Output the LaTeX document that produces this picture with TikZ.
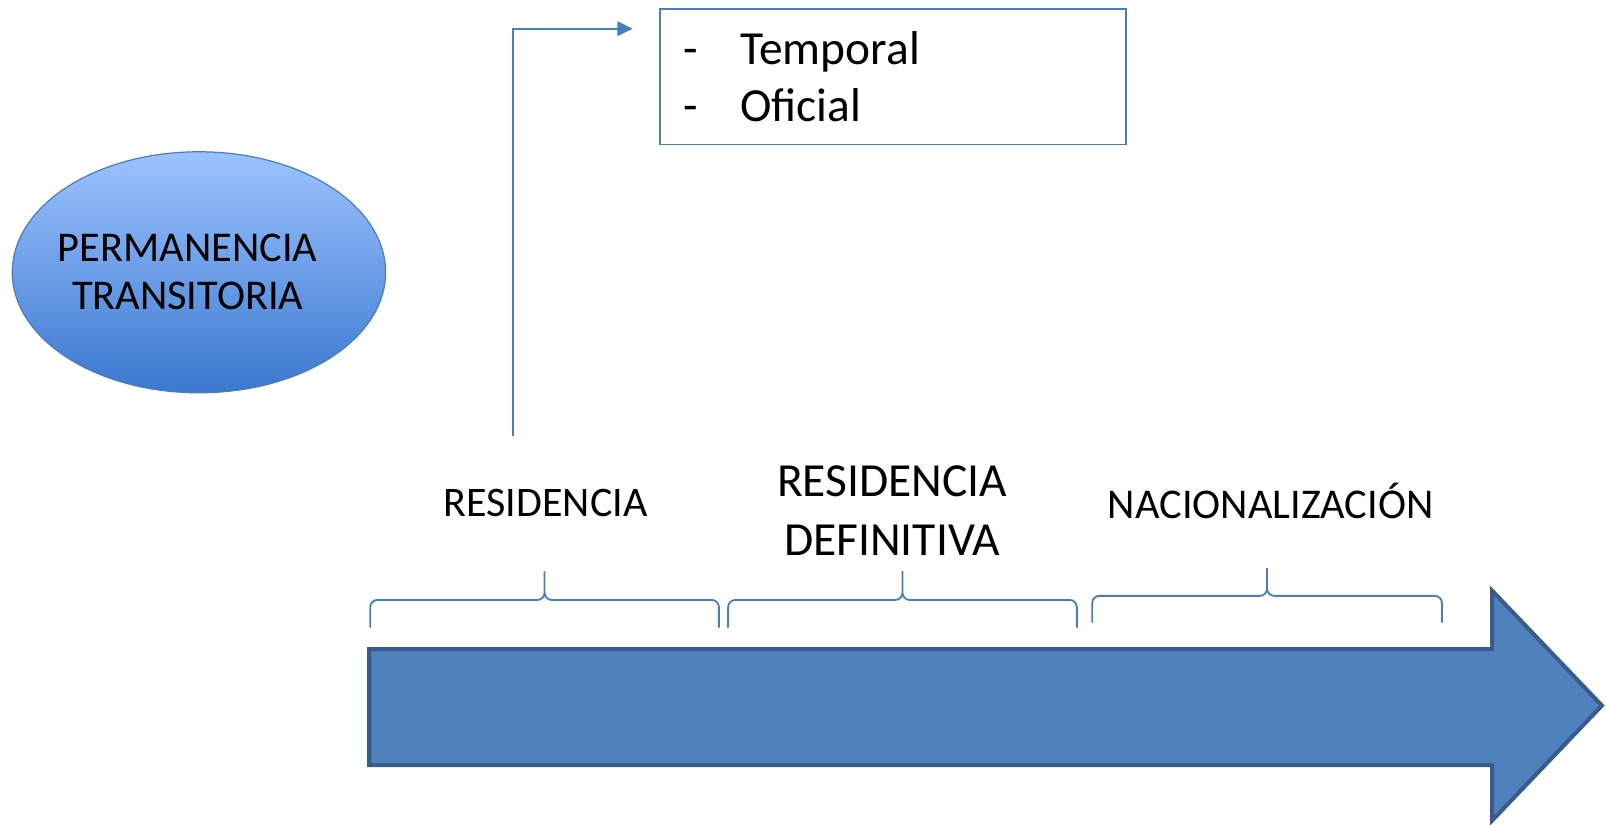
\documentclass[tikz,border=0pt]{standalone}
\usepackage{fontspec}
\setmainfont{Carlito}
\usetikzlibrary{positioning,shapes.geometric,arrows.meta}

\definecolor{lineblue}{HTML}{4A7EBB}
\definecolor{arrowfill}{HTML}{4F81BD}
\definecolor{arrowedge}{HTML}{385D8A}
\definecolor{ovaltop}{HTML}{9DC3FE}
\definecolor{ovalbot}{HTML}{3A78CF}

\tikzset{
    stagebrace/.style={lineblue, line width=1.8pt, rounded corners=7pt},
    stagelabel/.style={align=center, inner sep=0pt},
    conn/.style={lineblue, line width=2.3pt,
        -{Triangle[length=15pt,width=14pt]}}
}

\begin{document}
\begin{tikzpicture}[x=1pt,y=-1pt]
    \useasboundingbox (0,0) rectangle (1566,804.4);

    % oval on the left
    \node[ellipse, draw=lineblue, line width=1.2pt, top color=ovaltop,
        bottom color=ovalbot, minimum width=364pt, minimum height=235pt,
        inner sep=0pt, align=center,
        font=\fontsize{41.3}{47}\selectfont] (perm) at (194,265.5)
        {\hspace*{-22pt}PERMANENCIA\\\hspace*{-22pt}TRANSITORIA};

    % box with the kinds of residence
    \node[draw=lineblue, line width=1.8pt, anchor=north west,
        minimum width=454pt, minimum height=132pt, inner xsep=23pt,
        text width=408pt, align=left,
        font=\fontsize{46.3}{56}\selectfont] (tipos) at (643,8)
        {\makebox[55pt][l]{-}Temporal\\\makebox[55pt][l]{-}Oficial};

    % big time arrow
    \draw[arrowedge, fill=arrowfill, line width=4pt, line join=miter]
        (360,633) -- (1455,633) -- (1455,576) -- (1562,688)
        -- (1455,800) -- (1455,746) -- (360,746) -- cycle;

    % stages
    \node[stagelabel, font=\fontsize{41}{47}\selectfont] (resid) at (532,490) {RESIDENCIA};
    \node[stagelabel, font=\fontsize{46.3}{57}\selectfont] (defin) at (870,498)
        {RESIDENCIA\\DEFINITIVA};
    \node[stagelabel, font=\fontsize{41.3}{47}\selectfont] (nacio) at (1239,488)
        {NACIONALIZACIÓN};

    % braces over the arrow
    \draw[stagebrace] (361,612) -- (361,585) -- (531,585) -- (531,557)
        (531,557) -- (531,585) -- (701,585) -- (701,612);
    \draw[stagebrace] (710,612) -- (710,585) -- (880,585) -- (880,557)
        (880,557) -- (880,585) -- (1050,585) -- (1050,612);
    \draw[stagebrace] (1065,607) -- (1065,581) -- (1235.5,581) -- (1235.5,554)
        (1235.5,554) -- (1235.5,581) -- (1406,581) -- (1406,607);

    % from residence up to the box
    \coordinate (rise) at (500,425);
    \draw[conn] (rise) |- ([xshift=-26pt,yshift=-20pt]tipos.north west);

\end{tikzpicture}
\end{document}
